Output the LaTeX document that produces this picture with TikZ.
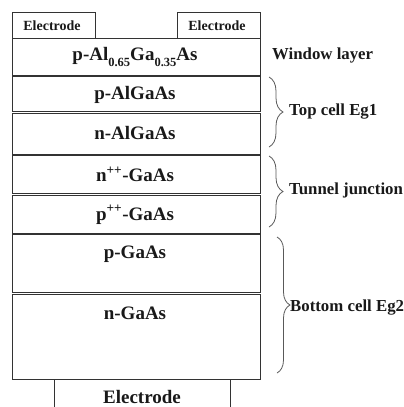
\documentclass[tikz,border=0pt]{standalone}
\usepackage{fontspec}
\setmainfont{Liberation Serif}
\usetikzlibrary{decorations.pathreplacing}
\tikzset{
  layerbox/.style={draw=black!80, line width=0.8bp},
  lbl/.style={font=\bfseries\fontsize{19bp}{21bp}\selectfont, inner sep=0pt, text=black!90},
  smalllbl/.style={font=\bfseries\fontsize{14bp}{16bp}\selectfont, inner sep=0pt, text=black!90},
  sidelbl/.style={font=\bfseries\fontsize{16.8bp}{19bp}\selectfont, inner sep=0pt, anchor=west, text=black!90},
  bracestyle/.style={draw=black!65, line width=0.8bp, decorate, decoration={brace, amplitude=#1}},
}
\newcommand{\subsc}[1]{\raisebox{-0.3em}{\fontsize{12.5bp}{13bp}\selectfont #1}}
\begin{document}
\begin{tikzpicture}[x=1bp,y=-1bp]
\useasboundingbox (0,0) rectangle (404,407);
% top electrodes
\draw[layerbox] (12,12) rectangle (95,38);
\draw[layerbox] (177,12) rectangle (260,38);
\node[smalllbl] (e1) at (52,25.5) {Electrode};
\node[smalllbl] (e2) at (217,25.5) {Electrode};
% layers
\draw[layerbox] (12,38) rectangle (260,75);
\node[lbl] (win) at (135,57) {p-Al\subsc{0.65}Ga\subsc{0.35}As};
\draw[layerbox] (12,76.5) rectangle (260,111);
\node[lbl] (pal) at (135,95) {p-AlGaAs};
\draw[layerbox] (12,113) rectangle (260,154);
\node[lbl] (nal) at (135,133) {n-AlGaAs};
\draw[layerbox] (12,155.5) rectangle (260,193);
\node[lbl] (npp) at (135,174.5) {n\textsuperscript{++}-GaAs};
\draw[layerbox] (12,195.5) rectangle (260,233);
\node[lbl] (ppp) at (135,215) {p\textsuperscript{++}-GaAs};
\draw[layerbox] (12,234.5) rectangle (260,292);
\node[lbl] (pga) at (135,254) {p-GaAs};
\draw[layerbox] (12,294.5) rectangle (260,379);
\node[lbl] (nga) at (135,313.5) {n-GaAs};
% bottom electrode
\draw[layerbox] (54,408) -- (54,379) -- (230,379) -- (230,408);
\node[lbl] (eb) at (142,397) {Electrode};
% braces
\coordinate (b1t) at (269,77);
\coordinate (b1b) at (269,147);
\coordinate (b2t) at (269,156);
\coordinate (b2b) at (269,227);
\coordinate (b3t) at (277,237);
\coordinate (b3b) at (277,373);
\draw[bracestyle=14bp] (b1t) -- (b1b);
\draw[bracestyle=14bp] (b2t) -- (b2b);
\draw[bracestyle=13bp] (b3t) -- (b3b);
\node[sidelbl] (wl) at (272,55) {Window layer};
\node[sidelbl] (tc) at (289,111.5) {Top cell Eg1};
\node[sidelbl] (tj) at (289,190) {Tunnel junction};
\node[sidelbl] (bc) at (290,308) {Bottom cell Eg2};
\end{tikzpicture}
\end{document}
